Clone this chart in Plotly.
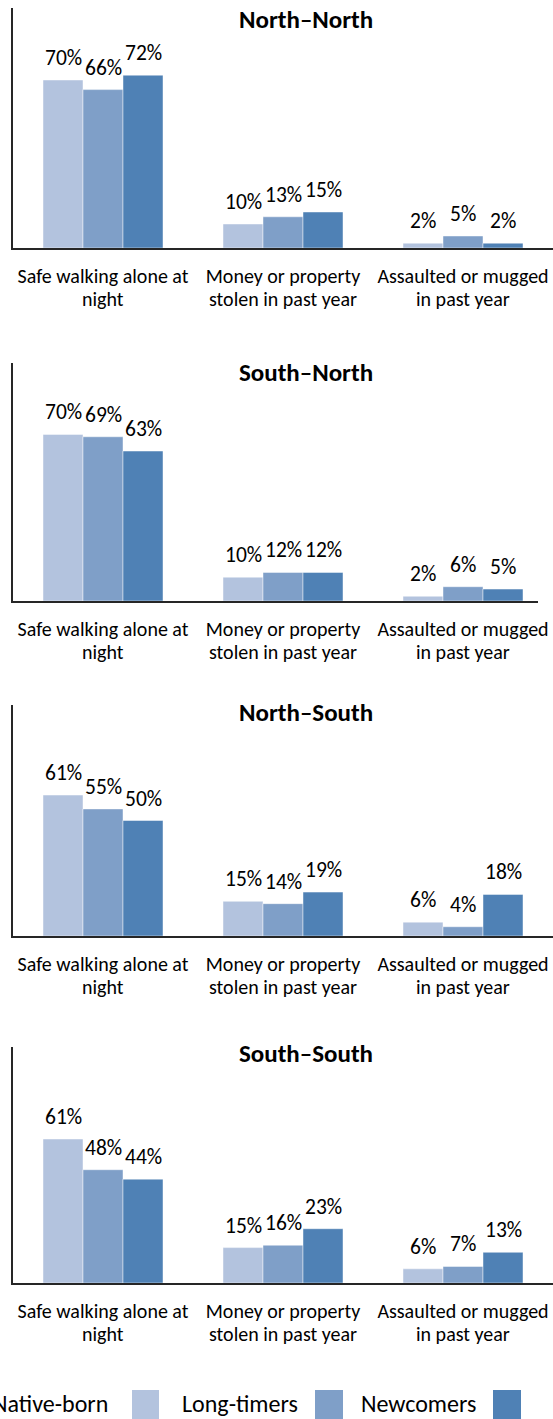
import plotly.graph_objects as go

# Survey results by region pairing (origin–destination)
panels = ["North–North", "South–North", "North–South", "South–South"]
categories = [
    "Safe walking alone at<br>night",
    "Money or property<br>stolen in past year",
    "Assaulted or mugged<br>in past year",
]
groups = ["Native-born", "Long-timers", "Newcomers"]

north_north = {"Native-born": [70, 10, 2], "Long-timers": [66, 13, 5], "Newcomers": [72, 15, 2]}
south_north = {"Native-born": [70, 10, 2], "Long-timers": [69, 12, 6], "Newcomers": [63, 12, 5]}
north_south = {"Native-born": [61, 15, 6], "Long-timers": [55, 14, 4], "Newcomers": [50, 19, 18]}
south_south = {"Native-born": [61, 15, 6], "Long-timers": [48, 16, 7], "Newcomers": [44, 23, 13]}
panel_data = [north_north, south_north, north_south, south_south]

colors = {"Native-born": "#B3C3DE", "Long-timers": "#7F9FC8", "Newcomers": "#4F81B5"}

W, H = 553, 1419
FONT = "Carlito, Calibri, Lato, sans-serif"
AXIS_COLOR = "#262626"

# plot area of each panel, in pixels from the top of the page: (top, bottom)
panel_px = [(8, 248), (363, 601), (705, 936), (1047, 1283)]
# right end of each baseline, in pixels
panel_right = [553, 538, 553, 553]
title_px = [20, 372, 712, 1053]
left_px = 13
band_px = (553 - left_px) / 3.0

group_width = 2.0 / 3.0
bar_w = group_width / len(groups)

# category labels are set on two lines with a tighter leading than <br> gives
first_lines = [c.split("<br>")[0] for c in categories]
second_lines = [c.split("<br>")[1] for c in categories]


def py(px):
    return 1 - px / H


fig = go.Figure()
annotations = []
shapes = []

for k, (name, data) in enumerate(zip(panels, panel_data)):
    idx = "" if k == 0 else str(k + 1)
    xa, ya = "x" + idx, "y" + idx
    top, bottom = panel_px[k]
    for gname in groups:
        fig.add_trace(go.Bar(
            x=categories, y=data[gname], name=gname,
            marker=dict(color=colors[gname], line=dict(color="rgba(255,255,255,0.45)", width=1)),
            xaxis=xa, yaxis=ya, showlegend=False, hoverinfo="skip",
        ))
    # value labels above each bar
    for j, gname in enumerate(groups):
        for i, v in enumerate(data[gname]):
            annotations.append(dict(
                x=i + (j - 1) * bar_w, y=v, xref=xa, yref=ya,
                text=f"{v}%", showarrow=False, yanchor="bottom", xanchor="center",
                yshift=7, font=dict(family=FONT, size=21.5, color="#000000"),
            ))
    # second line of each category label
    for i, line in enumerate(second_lines):
        annotations.append(dict(
            x=i, y=py(bottom + 51), xref=xa, yref="paper", text=line,
            showarrow=False, xanchor="center", yanchor="middle",
            font=dict(family=FONT, size=20, color="#000000"),
        ))
    annotations.append(dict(
        x=306 / W, y=py(title_px[k]), xref="paper", yref="paper",
        text=f"<b>{name}</b>", showarrow=False, xanchor="center", yanchor="middle",
        font=dict(family=FONT, size=25, color="#000000"),
    ))
    right = panel_right[k]
    x_extra = (553 - right) / band_px
    fig.layout["xaxis" + idx] = dict(
        domain=[left_px / W, right / W], anchor=ya, type="category",
        categoryorder="array", categoryarray=categories,
        tickvals=categories, ticktext=first_lines,
        range=[-0.5, 2.5 - x_extra], showline=True, linecolor=AXIS_COLOR, linewidth=2,
        ticks="", showgrid=False, zeroline=False, fixedrange=True, automargin=False,
        tickfont=dict(family=FONT, size=20, color="#000000"), ticklabelstandoff=9,
    )
    fig.layout["yaxis" + idx] = dict(
        domain=[py(bottom), py(top)], anchor=xa, range=[0, 100],
        showline=True, linecolor=AXIS_COLOR, linewidth=2, showticklabels=False,
        ticks="", showgrid=False, zeroline=False, fixedrange=True, automargin=False,
    )

# legend: label followed by its colour swatch
legend_items = [
    ("Native-born", 110, "right", 132, 159),
    ("Long-timers", 180, "left", 315, 343),
    ("Newcomers", 359, "left", 493, 521),
]
for gname, tx, anchor, s0, s1 in legend_items:
    annotations.append(dict(
        x=tx / W, y=py(1403), xref="paper", yref="paper", text=gname,
        showarrow=False, xanchor=anchor, yanchor="middle",
        font=dict(family=FONT, size=24, color="#000000"),
    ))
    shapes.append(dict(
        type="rect", xref="paper", yref="paper",
        x0=s0 / W, x1=s1 / W, y0=py(1425), y1=py(1390),
        fillcolor=colors[gname], line=dict(width=0),
    ))

fig.update_layout(
    width=W, height=H, margin=dict(l=0, r=0, t=0, b=0, autoexpand=False),
    paper_bgcolor="#FFFFFF", plot_bgcolor="#FFFFFF",
    barmode="group", bargap=1 - group_width, bargroupgap=0,
    annotations=annotations, shapes=shapes, showlegend=False,
    font=dict(family=FONT, color="#000000"),
)

fig.write_html("out.html", config={"displayModeBar": False})
